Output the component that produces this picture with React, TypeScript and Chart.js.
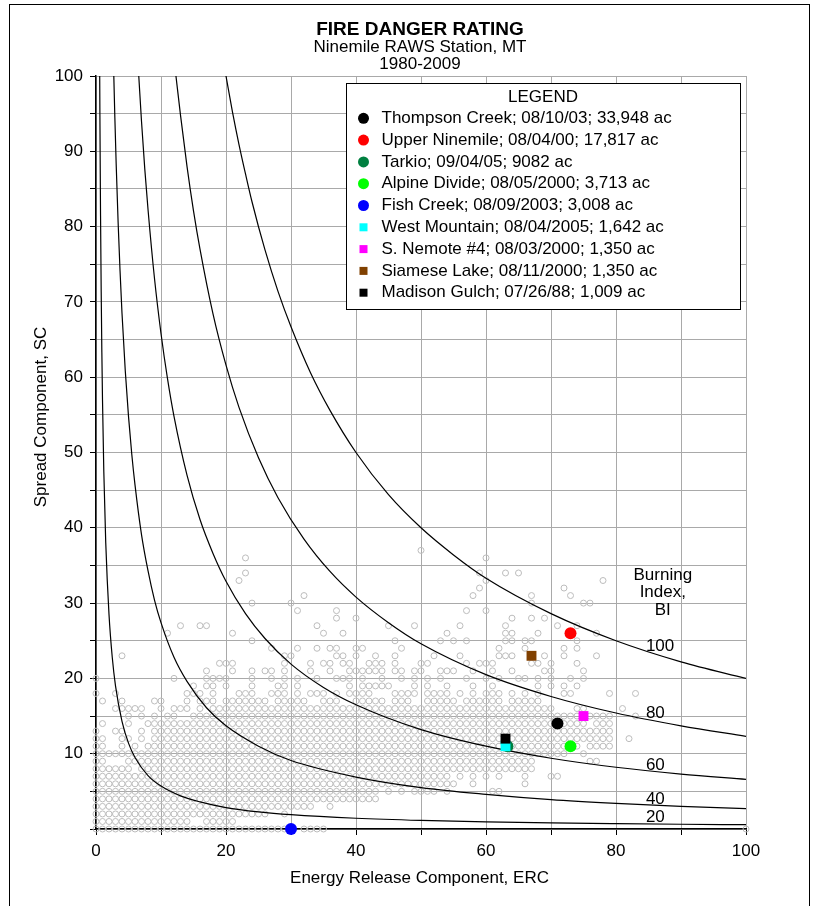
import React, { useEffect, useRef } from 'react';
import { Chart, registerables } from 'chart.js';

Chart.register(...registerables);

const TITLE = 'FIRE DANGER RATING';
const SUBTITLES = ['Ninemile RAWS Station, MT', '1980-2009'];
const X_TITLE = 'Energy Release Component, ERC';
const Y_TITLE = 'Spread Component, SC';
const LEGEND_TITLE = 'LEGEND';
const BI_TITLE = ['Burning', 'Index,', 'BI'];

// Daily observations 1980-2009: row index = SC, entries = ERC values (ranges "a-b")
const obsRows: string[] = [
  '0-29,32-35,100', // SC 0
  '0-14,17-21', // 1
  '0-26,29', // 2
  '0-33,36', // 3
  '0-43', // 4
  '0-43,45,47,49-52,54,61,62', // 5
  '0-55,58,66', // 6
  '0-54,56,58,60,62,66,70,71', // 7
  '0-5,7-67', // 8
  '0,1,5-67,76,77', // 9
  '0-72,75', // 10
  '0,1,4,6,8-74,76-79', // 11
  '0,1,4,5,7,9-79,82', // 12
  '0,3,4,7,9-79', // 13
  '1,5,8-75,77-79', // 14
  '5,7,9,11,12,15-79,83', // 15
  '3-7,10,12-14,16,18-70,74,75,81', // 16
  '1,4,9,10,14,16-18,20-26,28-32,35-37,40-44,46-48,51-55,57-62,64-68', // 17
  '0,3,14-16,18,22-24,27-29,31,33-35,37,39-42,46-49,51-54,56,58,60-62,64,66,68,72,73,79,83', // 18
  '15,17,18,20,24,28,29,31,39,41-45,49,51,54,58,61,68,70,72,74', // 19
  '0,12,17-20,24,27,29,31,34,37-39,41,44,47,49,51,53,57,60,62,65,66,68,70,73,75', // 20
  '17,21,24,26,27,29,33,36,39-44,46,47,49,50,53-55,58,61,64,69,70,75', // 21
  '19-21,29,33,35,36,38,39,42-44,46,50,51,57,59-61,67,68,70,74', // 22
  '4,29,30,37,38,40,43,46,52,56,62-64,69,72,77', // 23
  '27,31,34,36,37,40,41,47,62,66,72,74', // 24
  '24,46,53,55,57,63,64,66,67,74', // 25
  '11,21,35,38,54,63,64,68,77', // 26
  '13,16,17,34,45,49,56,63,71,74', // 27
  '37,40,64,67,69', // 28
  '31,37,57,60', // 29
  '24,30,67,75,76', // 30
  '32,58,67,73', // 31
  '59,72', // 32
  '22,60,78', // 33
  '23,59,63,65', // 34
  '', // 35
  '23,60', // 36
  '50', // 37
];

// Named fires
const fireNames = [
  'Thompson Creek; 08/10/03; 33,948 ac',
  'Upper Ninemile; 08/04/00; 17,817 ac',
  'Tarkio; 09/04/05; 9082 ac',
  'Alpine Divide; 08/05/2000; 3,713 ac',
  'Fish Creek; 08/09/2003; 3,008 ac',
  'West Mountain; 08/04/2005; 1,642 ac',
  'S. Nemote #4; 08/03/2000; 1,350 ac',
  'Siamese Lake; 08/11/2000; 1,350 ac',
  'Madison Gulch; 07/26/88; 1,009 ac',
];
const fireERC = [71, 73, 63.3, 73, 30, 63, 75, 67, 63];
const fireSC = [14, 26, 11, 11, 0, 11, 15, 23, 12];
const fireColors = ['#000000', '#ff0000', '#008040', '#00ff00', '#0000ff', '#00ffff', '#ff00ff', '#804000', '#000000'];
const fireShapes = ['circle', 'circle', 'circle', 'circle', 'circle', 'rect', 'rect', 'rect', 'rect'];

// Burning Index isolines
const biLevels = ['20', '40', '60', '80', '100'];
const bi20ERC = [0.57, 0.6, 0.65, 0.7, 0.8, 0.9, 1, 1.2, 1.5, 2, 2.5, 3, 4, 5, 6, 8, 10, 13, 16, 20, 25, 30, 40, 50, 60, 70, 80, 90, 100];
const bi20SC = [100, 95, 87.7, 81.4, 71.3, 63.3, 57, 47.5, 38, 28.5, 22.8, 19, 14.3, 11.4, 9.5, 7.1, 5.7, 4.4, 3.6, 2.85, 2.28, 1.9, 1.43, 1.14, 0.95, 0.81, 0.71, 0.63, 0.57];
const bi40ERC = [2.74, 2.9, 3.1, 3.4, 3.7, 4, 4.5, 5, 5.5, 6, 7, 8, 9, 10, 12, 14, 17, 20, 25, 30, 40, 50, 60, 70, 80, 90, 100];
const bi40SC = [100, 94.5, 88.4, 80.6, 74.1, 68.5, 60.9, 54.8, 49.8, 45.7, 39.1, 34.3, 30.4, 27.4, 22.8, 19.6, 16.1, 13.7, 11, 9.1, 6.9, 5.5, 4.6, 3.9, 3.4, 3, 2.7];
const bi60ERC = [6.58, 7, 7.5, 8, 9, 10, 11, 12, 14, 16, 18, 20, 23, 26, 30, 35, 40, 50, 60, 70, 80, 90, 100];
const bi60SC = [100, 94, 87.7, 82.3, 73.1, 65.8, 59.8, 54.8, 47, 41.1, 36.6, 32.9, 28.6, 25.3, 21.9, 18.8, 16.5, 13.2, 11, 9.4, 8.2, 7.3, 6.6];
const bi80ERC = [12.3, 13, 14, 15, 16, 18, 20, 22, 25, 28, 32, 36, 40, 45, 50, 60, 70, 80, 90, 100];
const bi80SC = [100, 94.8, 88, 82.1, 77, 68.4, 61.6, 56, 49.3, 44, 38.5, 34.2, 30.8, 27.4, 24.6, 20.5, 17.6, 15.4, 13.7, 12.3];
const bi100ERC = [20, 21, 22, 23, 24, 26, 28, 30, 33, 36, 40, 45, 50, 55, 60, 70, 80, 90, 100];
const bi100SC = [100, 95.2, 90.9, 87, 83.3, 76.9, 71.4, 66.7, 60.6, 55.6, 50, 44.4, 40, 36.4, 33.3, 28.6, 25, 22.2, 20];
const biCurvesERC = [bi20ERC, bi40ERC, bi60ERC, bi80ERC, bi100ERC];
const biCurvesSC = [bi20SC, bi40SC, bi60SC, bi80SC, bi100SC];
const biLabelERC = [84.6, 84.6, 84.6, 84.6, 84.6];
const biLabelSC = [1.5, 4.0, 8.4, 15.3, 24.3];
const biTitleERC = 87.2;
const biTitleSC = [33.7, 31.4, 29.0];

const FONT = '"Liberation Sans", Arial, Helvetica, sans-serif';

function parseRow(s: string): number[] {
  if (!s) return [];
  const out: number[] = [];
  s.split(',').forEach((part) => {
    const [a, b] = part.split('-').map(Number);
    if (b === undefined || isNaN(b)) out.push(a);
    else for (let k = a; k <= b; k++) out.push(k);
  });
  return out;
}

export default function App() {
  const ref = useRef<HTMLCanvasElement | null>(null);

  useEffect(() => {
    const canvas = ref.current;
    if (!canvas) return;

    const obsPoints: { x: number; y: number }[] = [];
    obsRows.forEach((row, sc) => {
      parseRow(row).forEach((erc) => obsPoints.push({ x: erc, y: sc }));
    });

    const datasets: any[] = [];
    datasets.push({
      label: 'obs',
      data: obsPoints,
      pointStyle: 'circle',
      pointRadius: 3,
      pointBorderWidth: 1,
      pointBorderColor: '#bcbcbc',
      pointBackgroundColor: 'rgba(0,0,0,0)',
      showLine: false,
      clip: false,
      order: 100,
    });
    biCurvesERC.forEach((xs, i) => {
      datasets.push({
        label: 'BI ' + biLevels[i],
        data: xs.map((x, k) => ({ x, y: biCurvesSC[i][k] })),
        showLine: true,
        borderColor: '#000000',
        borderWidth: 1.2,
        pointRadius: 0,
        cubicInterpolationMode: 'monotone',
        fill: false,
        order: 50,
      });
    });
    fireNames.forEach((name, i) => {
      datasets.push({
        label: name,
        data: [{ x: fireERC[i], y: fireSC[i] }],
        pointStyle: fireShapes[i],
        pointRadius: fireShapes[i] === 'rect' ? 7 : 6,
        pointBorderWidth: 0,
        pointBackgroundColor: fireColors[i],
        pointBorderColor: fireColors[i],
        showLine: false,
        clip: false,
        order: 20 - i,
      });
    });

    const overlay = {
      id: 'overlay',
      afterDraw(chart: any) {
        const ctx = chart.ctx as CanvasRenderingContext2D;
        const xs = chart.scales.x;
        const ys = chart.scales.y;
        ctx.save();
        // outer frame
        ctx.strokeStyle = '#000';
        ctx.lineWidth = 1;
        ctx.strokeRect(9.5, 4.5, 800, 920);

        ctx.fillStyle = '#000';
        ctx.textAlign = 'center';
        ctx.textBaseline = 'middle';
        ctx.font = `bold 19px ${FONT}`;
        ctx.fillText(TITLE, 420, 30);
        ctx.font = `17px ${FONT}`;
        ctx.fillText(SUBTITLES[0], 420, 47.5);
        ctx.fillText(SUBTITLES[1], 420, 64.5);

        // axis titles
        ctx.fillText(X_TITLE, 419.5, 878);
        ctx.save();
        ctx.translate(41.5, 417);
        ctx.rotate(-Math.PI / 2);
        ctx.fillText(Y_TITLE, 0, 0);
        ctx.restore();

        // BI labels
        ctx.textAlign = 'left';
        biLevels.forEach((lab, i) => {
          ctx.fillText(lab, xs.getPixelForValue(biLabelERC[i]), ys.getPixelForValue(biLabelSC[i]));
        });
        ctx.textAlign = 'center';
        BI_TITLE.forEach((t, i) => {
          ctx.fillText(t, xs.getPixelForValue(biTitleERC), ys.getPixelForValue(biTitleSC[i]));
        });

        // legend box
        const lx = 346, ly = 83, lw = 394, lh = 226;
        ctx.fillStyle = '#fff';
        ctx.fillRect(lx, ly, lw, lh);
        ctx.strokeStyle = '#000';
        ctx.strokeRect(lx + 0.5, ly + 0.5, lw, lh);
        ctx.fillStyle = '#000';
        ctx.fillText(LEGEND_TITLE, lx + lw / 2, 97);
        ctx.textAlign = 'left';
        fireNames.forEach((name, i) => {
          const y = 118.3 + i * 21.8;
          ctx.fillStyle = fireColors[i];
          if (fireShapes[i] === 'circle') {
            ctx.beginPath();
            ctx.arc(363.5, y, 5.5, 0, Math.PI * 2);
            ctx.fill();
          } else {
            ctx.fillRect(359.5, y - 4, 8, 8);
          }
          ctx.fillStyle = '#000';
          ctx.fillText(name, 381.5, y);
        });
        ctx.restore();
      },
    };

    const chart = new Chart(canvas, {
      type: 'scatter',
      data: { datasets },
      options: {
        animation: false,
        responsive: false,
        devicePixelRatio: 1,
        layout: { padding: { left: 0, top: 76, right: 68, bottom: 0 } },
        plugins: { legend: { display: false }, tooltip: { enabled: false }, title: { display: false } },
        scales: {
          x: {
            type: 'linear',
            min: 0,
            max: 100,
            ticks: {
              stepSize: 10,
              autoSkip: false,
              maxRotation: 0,
              padding: 6,
              color: '#000',
              font: { family: FONT, size: 17 },
              callback: (v: any) => (Number(v) % 20 === 0 ? String(v) : ''),
            },
            grid: { color: '#a9a9a9', tickColor: '#000', tickLength: 6, lineWidth: 1 },
            border: { color: '#000', width: 1.5 },
            afterFit: (s: any) => {
              s.height = 77;
              s.paddingLeft = 0;
              s.paddingRight = 0;
            },
          },
          y: {
            type: 'linear',
            min: 0,
            max: 100,
            ticks: {
              stepSize: 5,
              autoSkip: false,
              padding: 7,
              color: '#000',
              font: { family: FONT, size: 17 },
              callback: (v: any) => (Number(v) % 10 === 0 && Number(v) > 0 ? String(v) : ''),
            },
            grid: { color: '#a9a9a9', tickColor: '#000', tickLength: 6, lineWidth: 1 },
            border: { color: '#000', width: 1.5 },
            afterFit: (s: any) => {
              s.width = 96;
              s.paddingTop = 0;
              s.paddingBottom = 0;
            },
          },
        },
      },
      plugins: [overlay],
    } as any);

    return () => chart.destroy();
  }, []);

  return (
    <div style={{ position: 'absolute', left: 0, top: 0, width: 814, height: 906, background: '#fff' }}>
      <canvas ref={ref} width={814} height={906} style={{ display: 'block', width: 814, height: 906 }} />
    </div>
  );
}
